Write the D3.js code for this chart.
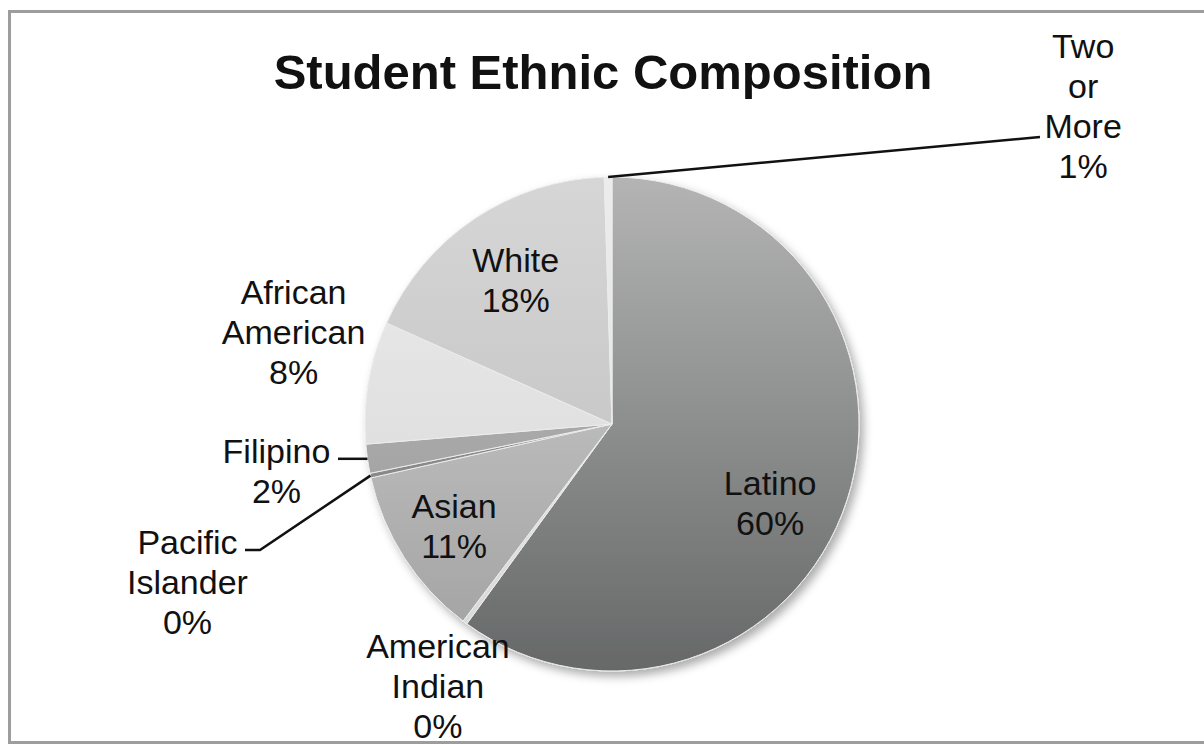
<!DOCTYPE html>
<html>
<head>
<meta charset="utf-8">
<script src="https://cdn.jsdelivr.net/npm/d3@7"></script>
<style>
  html, body { margin: 0; padding: 0; background: #fff; overflow: hidden; }
  svg { display: block; }
  text { font-family: "Liberation Sans", Arial, sans-serif; fill: #111; }
</style>
</head>
<body>
<svg id="chart"></svg>
<script>
// slice data, clockwise from 12 o'clock
const categories = ["Latino", "American Indian", "Asian", "Pacific Islander", "Filipino", "African American", "White", "Two or More"];
const shares = [60.0, 0.3, 11.2, 0.3, 1.9, 8.0, 17.8, 0.5];
const labelLines = [["Latino"], ["American", "Indian"], ["Asian"], ["Pacific", "Islander"], ["Filipino"], ["African", "American"], ["White"], ["Two", "or", "More"]];

// grey gradient per slice (top, bottom)
const shades = [
  ["#b4b4b4", "#666868"],
  ["#ececec", "#d8d8d8"],
  ["#d4d4d4", "#a0a0a0"],
  ["#9c9c9c", "#7c7c7c"],
  ["#bcbcbc", "#969696"],
  ["#ececec", "#d6d6d6"],
  ["#d6d6d6", "#bcbcbc"],
  ["#ececec", "#dddddd"]
];

// label placement: inside labels nudge off the centroid, outside ones sit off the edge
const labelLayout = {
  "Latino":           { r: 0.72, dx: -11, dy: 24 },
  "American Indian":  { r: 1.0,  dx: -27, dy: 64 },
  "Asian":            { r: 0.76, dx: 0,   dy: 0 },
  "Pacific Islander": { r: 1.0,  dx: -183, dy: 106, leader: [[260, 550], [245, 550]] },
  "Filipino":         { r: 1.0,  dx: -91, dy: 12, leader: [[338, null]] },
  "African American": { r: 1.0,  dx: -75, dy: -50 },
  "White":            { r: 0.70, dx: 0,   dy: 0 },
  "Two or More":      { r: 1.0,  dx: 475, dy: -71, leader: [[1040, 137]] }
};

const width = 1204, height = 744;
const cx = 612, cy = 424, radius = 247;
const lineH = 40;

const svg = d3.select("#chart").attr("width", width).attr("height", height);

// outer frame (right side runs off the picture)
svg.append("rect")
  .attr("x", 9.5).attr("y", 11.5)
  .attr("width", 1240).attr("height", 731)
  .attr("fill", "#fff")
  .attr("stroke", "#9d9d9d")
  .attr("stroke-width", 3);

svg.append("text")
  .attr("x", 603).attr("y", 89)
  .attr("text-anchor", "middle")
  .style("font-size", "49px")
  .style("font-weight", "bold")
  .text("Student Ethnic Composition");

const defs = svg.append("defs");
const shadow = defs.append("filter").attr("id", "shadow")
  .attr("x", "-20%").attr("y", "-20%").attr("width", "140%").attr("height", "140%");
shadow.append("feDropShadow")
  .attr("dx", 4).attr("dy", 5)
  .attr("stdDeviation", 5)
  .attr("flood-color", "#000")
  .attr("flood-opacity", 0.33);

shades.forEach((s, i) =>
{
  const g = defs.append("linearGradient")
    .attr("id", "grad" + i)
    .attr("gradientUnits", "userSpaceOnUse")
    .attr("x1", 0).attr("x2", 0)
    .attr("y1", -radius).attr("y2", radius);
  g.append("stop").attr("offset", "0%").attr("stop-color", s[0]);
  g.append("stop").attr("offset", "100%").attr("stop-color", s[1]);
});

const data = categories.map((c, i) => ({ name: c, value: shares[i], idx: i }));

const pie = d3.pie()
  .sort(null)
  .value(d => d.value)
  .startAngle(0)
  .endAngle(2 * Math.PI);

const arc = d3.arc().innerRadius(0).outerRadius(radius);
const arcs = pie(data);

const pieG = svg.append("g")
  .attr("transform", `translate(${ cx },${ cy })`)
  .attr("filter", "url(#shadow)");

pieG.selectAll("path")
  .data(arcs)
  .join("path")
  .attr("d", arc)
  .attr("fill", (d, i) => `url(#grad${ i })`)
  .attr("stroke", "#ececec")
  .attr("stroke-width", 1);

const polar = (a, r) => [cx + r * Math.sin(a), cy - r * Math.cos(a)];

const labelG = svg.append("g");
arcs.forEach(d =>
{
  const lay = labelLayout[d.data.name];
  const mid = (d.startAngle + d.endAngle) / 2;
  const edge = polar(mid, radius);
  const base = polar(mid, radius * lay.r);
  const lx = base[0] + lay.dx, ly = base[1] + lay.dy;
  const lines = labelLines[d.data.idx].concat([Math.round(d.data.value) + "%"]);
  const firstBase = ly - (lines.length - 1) * lineH / 2 + 12;

  const t = labelG.append("text")
    .attr("text-anchor", "middle")
    .style("font-size", "34px");
  lines.forEach((s, k) =>
  {
    t.append("tspan").attr("x", lx).attr("y", firstBase + k * lineH).text(s);
  });

  if (lay.leader)
  {
    const pts = [edge].concat(lay.leader.map(p => [p[0], p[1] === null ? edge[1] : p[1]]));
    labelG.append("path")
      .attr("d", d3.line()(pts))
      .attr("fill", "none")
      .attr("stroke", "#111")
      .attr("stroke-width", 2.5);
  }
});
</script>
</body>
</html>
